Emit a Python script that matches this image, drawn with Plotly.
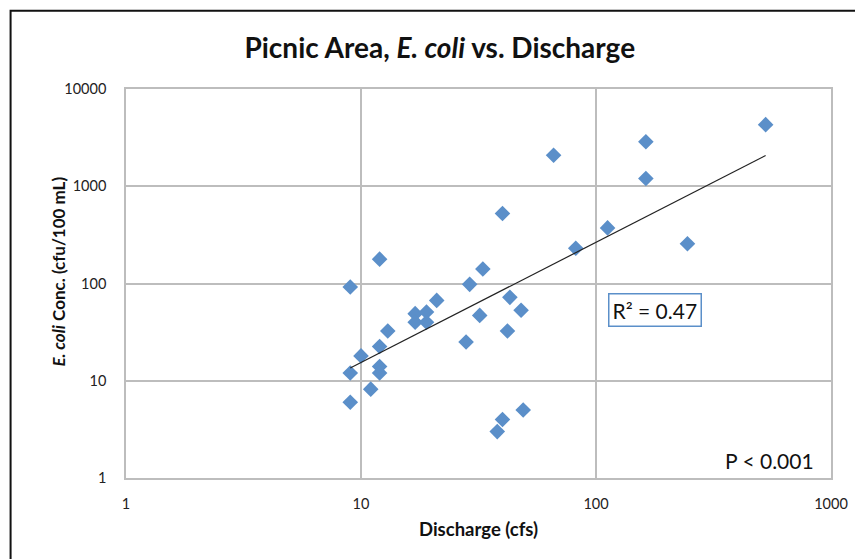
import numpy as np
import plotly.graph_objects as go

discharge_cfs = [9, 12, 9, 9, 10, 11, 12, 12, 12, 13, 17, 17, 19, 19, 21, 28, 29, 33, 32,
                 43, 48, 42, 40, 38, 49, 82, 66, 40, 112, 163, 163, 245, 527]
ecoli_conc = [92, 178, 12, 6, 18, 8.2, 22.5, 14, 12, 32.5, 49, 40, 51, 40, 67, 25, 98, 141, 47,
              72, 53, 32.5, 4, 3, 5, 230, 2080, 525, 373, 2870, 1200, 256, 4300]
x_ticks = [1, 10, 100, 1000]
y_ticks = [1, 10, 100, 1000, 10000]
r2_label = "R² = 0.47"
p_label = "P < 0.001"

# power trendline (least squares in log-log space)
lx = np.log10(discharge_cfs)
ly = np.log10(ecoli_conc)
b, a = np.polyfit(lx, ly, 1)
tx = np.array([min(discharge_cfs), max(discharge_cfs)], dtype=float)
ty = 10 ** (a + b * np.log10(tx))

FONT = "Lato"
# page has an 8px body margin; plot area spans page x 125.5..831, y 88.5..478.5
PL, PW, PB, PH = 125.5, 705.5, 478.5, 390.0
def px(v):
    return (v - PL) / PW
def py(v):
    return (PB - v) / PH

fig = go.Figure()
fig.add_trace(go.Scatter(x=discharge_cfs, y=ecoli_conc, mode="markers",
                         marker=dict(symbol="diamond", size=12, color="#5B8FC9"),
                         showlegend=False, hoverinfo="x+y"))
fig.add_trace(go.Scatter(x=tx, y=ty, mode="lines",
                         line=dict(color="#222222", width=1.2),
                         showlegend=False, hoverinfo="skip"))

grid = "#BDBDBD"
fig.update_layout(
    width=855, height=551,
    margin=dict(l=117.5, r=32, t=80.5, b=80.5),
    paper_bgcolor="white", plot_bgcolor="white",
    font=dict(family=FONT, size=14, color="#222222"),
    title=dict(text="<b>Picnic Area, <i>E. coli</i> vs. Discharge</b>",
               x=0.505, xanchor="center", y=1 - 40 / 551, yanchor="middle",
               font=dict(family=FONT, size=28, color="#111111")),
    xaxis=dict(type="log", range=[0, 3], tickvals=x_ticks, ticktext=[str(v) for v in x_ticks],
               showgrid=True, gridcolor=grid, gridwidth=1.5, zeroline=False,
               showline=True, linecolor=grid, linewidth=1.5, mirror=True,
               ticks="", ticklabelstandoff=12, tickfont=dict(size=14.5)),
    yaxis=dict(type="log", range=[0, 4], tickvals=y_ticks, ticktext=[str(v) for v in y_ticks],
               showgrid=True, gridcolor=grid, gridwidth=1.5, zeroline=False,
               showline=True, linecolor=grid, linewidth=1.5, mirror=True,
               ticks="", ticklabelstandoff=15, tickfont=dict(size=14.5)),
)

fig.add_annotation(xref="paper", yref="paper", x=px(478), y=py(530),
                   xanchor="center", yanchor="middle",
                   text="<b>Discharge (cfs)</b>", showarrow=False,
                   font=dict(size=18.5, color="#111111"))
fig.add_annotation(xref="paper", yref="paper", x=px(57), y=py(272), textangle=-90,
                   xanchor="center", yanchor="middle",
                   text="<b><i>E. coli</i> Conc. (cfu/100 mL)</b>", showarrow=False,
                   font=dict(size=17, color="#111111"))
fig.add_annotation(xref="paper", yref="paper", x=px(655), y=py(310),
                   xanchor="center", yanchor="middle",
                   text=r2_label, showarrow=False, font=dict(size=21, color="#111111"),
                   bordercolor="#5B8FC9", borderwidth=1.5, borderpad=3, bgcolor="white")
fig.add_annotation(xref="paper", yref="paper", x=px(816), y=py(461),
                   xanchor="right", yanchor="middle", text=p_label, showarrow=False,
                   font=dict(size=21, color="#111111"))

# outer chart border
fig.add_shape(type="rect", xref="paper", yref="paper",
              x0=px(10), x1=px(880), y0=py(580), y1=py(10),
              line=dict(color="#111111", width=2), layer="below")

fig.write_html("out.html")
